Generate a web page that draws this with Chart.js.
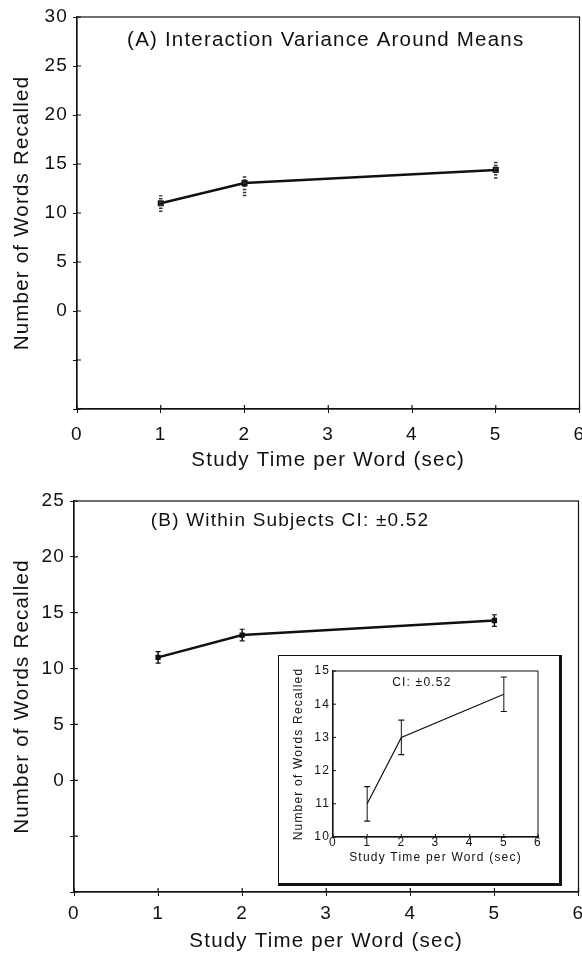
<!DOCTYPE html>
<html>
<head>
<meta charset="utf-8">
<script src="https://cdn.jsdelivr.net/npm/chart.js@4/dist/chart.umd.min.js"></script>
<style>
  body { margin: 0; background: #fff; width: 582px; height: 957px; position: relative; overflow: hidden; }
  .wrap { position: absolute; left: 0; }
  #insetBox { position: absolute; left: 278px; top: 655px; width: 280px; height: 227px;
    border: 1px solid #111; border-right-width: 3px; border-bottom-width: 3px; background: #fff; }
</style>
</head>
<body>
<div class="wrap" style="top:0"><canvas id="chartA" width="586" height="480"></canvas></div>
<div class="wrap" style="top:480px"><canvas id="chartB" width="585" height="477"></canvas></div>
<div id="insetBox"><canvas id="chartInset" width="280" height="227"></canvas></div>
<script>
// values
const studyTimes = [1, 2, 5];
const xTicks = [0, 1, 2, 3, 4, 5, 6];

const meansA = [11.0, 13.05, 14.4];
const lowA = [10.1, 11.7, 13.5];
const highA = [11.8, 13.8, 15.4];
const yTicksA = [-10, -5, 0, 5, 10, 15, 20, 25, 30];

const meansB = [11.0, 13.0, 14.3];
const ciB = 0.52;
const lowB = meansB.map(m => m - ciB);
const highB = meansB.map(m => m + ciB);
const yTicksB = [-10, -5, 0, 5, 10, 15, 20, 25];
const yTicksInset = [10, 11, 12, 13, 14, 15];

const INK = "#111";
const FONT = "'Liberation Sans', Arial, sans-serif";
const SPACING = "1.2px"; // the scanned type is wider than Arial

const spacingPlugin = {
  id: "spacing",
  beforeUpdate(chart) { chart.ctx.letterSpacing = SPACING; },
  beforeDraw(chart) { chart.ctx.letterSpacing = SPACING; }
};

// box round the plot, inward tick marks, text inside the plot
const framePlugin = {
  id: "frame",
  afterDraw(chart, args, opts) {
    const ctx = chart.ctx;
    const a = chart.chartArea;
    const x = chart.scales.x, y = chart.scales.y;
    ctx.save();
    ctx.strokeStyle = INK;
    ctx.lineWidth = opts.lineWidth;
    ctx.strokeRect(a.left, a.top, a.right - a.left, a.bottom - a.top);
    ctx.beginPath();
    x.ticks.forEach(t => {
      const px = x.getPixelForValue(t.value);
      ctx.moveTo(px, a.bottom);
      ctx.lineTo(px, a.bottom - opts.inTick);
    });
    y.ticks.forEach(t => {
      const py = y.getPixelForValue(t.value);
      ctx.moveTo(a.left, py);
      ctx.lineTo(a.left + opts.inTick, py);
    });
    ctx.stroke();
    ctx.font = opts.font;
    ctx.fillStyle = INK;
    ctx.textAlign = "center";
    ctx.textBaseline = "middle";
    ctx.fillText(opts.label, x.getPixelForValue(opts.labelAt[0]), y.getPixelForValue(opts.labelAt[1]));
    ctx.restore();
  }
};

// error bars
const errPlugin = {
  id: "errbars",
  afterDatasetsDraw(chart, args, opts) {
    const ctx = chart.ctx;
    const x = chart.scales.x, y = chart.scales.y;
    ctx.save();
    ctx.strokeStyle = opts.color;
    studyTimes.forEach((t, i) => {
      const px = x.getPixelForValue(t);
      const y1 = y.getPixelForValue(opts.low[i]);
      const y2 = y.getPixelForValue(opts.high[i]);
      ctx.lineWidth = opts.width;
      ctx.setLineDash(opts.dash);
      ctx.beginPath();
      ctx.moveTo(px, y1);
      ctx.lineTo(px, y2);
      ctx.stroke();
      ctx.setLineDash([]);
      if (opts.cap) {
        ctx.lineWidth = 1.2;
        ctx.beginPath();
        ctx.moveTo(px - opts.cap, y1); ctx.lineTo(px + opts.cap, y1);
        ctx.moveTo(px - opts.cap, y2); ctx.lineTo(px + opts.cap, y2);
        ctx.stroke();
      }
    });
    ctx.restore();
  }
};

const noPad = () => ({ left: 0, top: 0, right: 0, bottom: 0 });

function makeChart(id, cfg) {
  return new Chart(document.getElementById(id), {
    type: "line",
    data: {
      datasets: [{
        data: studyTimes.map((t, i) => ({ x: t, y: cfg.means[i] })),
        borderColor: INK,
        backgroundColor: INK,
        borderWidth: cfg.lineWidth,
        pointRadius: cfg.pointRadius,
        pointStyle: "rect",
        tension: 0
      }]
    },
    options: {
      responsive: false,
      animation: false,
      layout: { padding: cfg.padding },
      plugins: {
        legend: { display: false },
        tooltip: { enabled: false },
        frame: cfg.frame,
        errbars: cfg.err
      },
      scales: {
        x: {
          type: "linear",
          min: 0, max: 6,
          afterBuildTicks: s => { s.ticks = xTicks.map(v => ({ value: v })); },
          afterFit: s => { s.height = cfg.xHeight; s.paddingLeft = 0; s.paddingRight = 0; s.getPadding = noPad; },
          border: { color: INK, width: 1.2 },
          grid: { drawOnChartArea: false, color: INK, tickLength: cfg.tickLen, display: cfg.tickLen > 0 },
          ticks: { color: INK, font: { family: FONT, size: cfg.tickSize }, padding: cfg.xPad, maxRotation: 0 },
          title: { display: true, text: "Study Time per Word (sec)", color: INK,
            font: { family: FONT, size: cfg.xTitleSize }, padding: { top: 0, bottom: cfg.xTitlePad } }
        },
        y: {
          min: cfg.yTicks[0], max: cfg.yTicks[cfg.yTicks.length - 1],
          afterBuildTicks: s => { s.ticks = cfg.yTicks.map(v => ({ value: v })); },
          afterFit: s => { s.width = cfg.yWidth; s.paddingTop = 0; s.paddingBottom = 0; s.getPadding = noPad; },
          border: { color: INK, width: 1.2 },
          grid: { drawOnChartArea: false, color: INK, tickLength: cfg.tickLen, display: cfg.tickLen > 0 },
          ticks: { color: INK, font: { family: FONT, size: cfg.tickSize }, padding: cfg.yPad,
            callback: v => (v < 0 ? "" : String(v)) },
          title: { display: true, text: "Number of Words Recalled", color: INK,
            font: { family: FONT, size: cfg.yTitleSize }, padding: { top: cfg.yTitlePad, bottom: 0 } }
        }
      }
    },
    plugins: [spacingPlugin, framePlugin, errPlugin]
  });
}

makeChart("chartA", {
  means: meansA, yTicks: yTicksA, lineWidth: 2.5, pointRadius: 2.5,
  padding: { top: 17, right: 3, left: 0, bottom: 0 },
  xHeight: 71, yWidth: 77, tickLen: 4, tickSize: 19, xPad: 10, yPad: 5,
  xTitleSize: 20.5, xTitlePad: 7, yTitleSize: 20.5, yTitlePad: 10,
  frame: { lineWidth: 1.2, inTick: 4, font: "20.5px " + FONT,
    label: "(A) Interaction Variance Around Means", labelAt: [2.97, 27.65] },
  err: { low: lowA, high: highA, color: "#333", width: 3.5, dash: [1.5, 1.6], cap: 0 }
});

makeChart("chartB", {
  means: meansB, yTicks: yTicksB, lineWidth: 2.5, pointRadius: 2,
  padding: { top: 21, right: 4, left: 0, bottom: 0 },
  xHeight: 65, yWidth: 74, tickLen: 4, tickSize: 19, xPad: 6, yPad: 5,
  xTitleSize: 20.5, xTitlePad: 3, yTitleSize: 20.5, yTitlePad: 10,
  frame: { lineWidth: 1.2, inTick: 4, font: "19px " + FONT,
    label: "(B) Within Subjects CI: \u00b10.52", labelAt: [2.57, 23.2] },
  err: { low: lowB, high: highB, color: INK, width: 1.5, dash: [], cap: 2.5 }
});

makeChart("chartInset", {
  means: meansB, yTicks: yTicksInset, lineWidth: 1.2, pointRadius: 0,
  padding: { top: 15, right: 21, left: 0, bottom: 0 },
  xHeight: 46, yWidth: 54, tickLen: 0, tickSize: 12, xPad: -2, yPad: 3,
  xTitleSize: 12, xTitlePad: 18, yTitleSize: 12, yTitlePad: 12,
  frame: { lineWidth: 1, inTick: 3, font: "12px " + FONT,
    label: "CI: \u00b10.52", labelAt: [2.6, 14.65] },
  err: { low: lowB, high: highB, color: INK, width: 1, dash: [], cap: 3 }
});
</script>
</body>
</html>
